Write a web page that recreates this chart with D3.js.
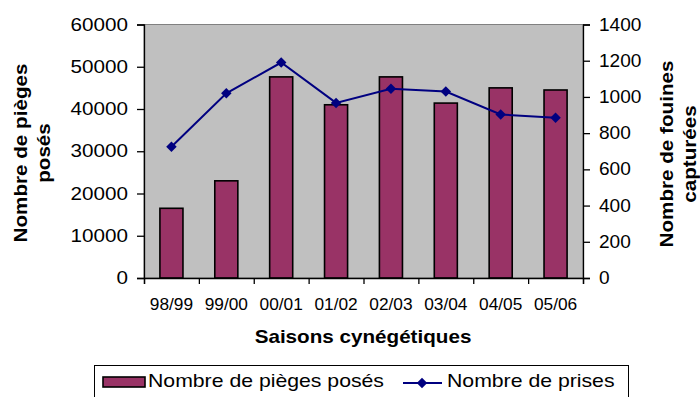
<!DOCTYPE html>
<html>
<head>
<meta charset="utf-8">
<script src="https://cdn.jsdelivr.net/npm/d3@7"></script>
<style>
  html, body { margin: 0; padding: 0; background: #fff; }
  svg { display: block; }
  text { font-family: Arial, "Liberation Sans", sans-serif; fill: #000; }
</style>
</head>
<body>
<svg id="chart" width="700" height="397"></svg>
<script>
// Hunting seasons and yearly figures
const seasons = ["98/99", "99/00", "00/01", "01/02", "02/03", "03/04", "04/05", "05/06"];
const trapsSet = [16500, 23000, 47600, 41000, 47600, 41400, 45000, 44500];
const catches = [725, 1020, 1190, 967, 1045, 1030, 903, 885];
const leftTicks = [0, 10000, 20000, 30000, 40000, 50000, 60000];
const rightTicks = [0, 200, 400, 600, 800, 1000, 1200, 1400];

const barColor = "#993366";
const lineColor = "#000080";
const plotFill = "#C0C0C0";
const stretch = 1.18;   // most text is drawn slightly widened

const svg = d3.select("#chart");
const plot = { left: 144, right: 583, top: 24.5, bottom: 278 };

const x = d3.scaleBand().domain(seasons).range([plot.left, plot.right]).padding(0);
const xEdges = d3.scaleLinear().domain([0, seasons.length]).range([plot.left, plot.right]);
const yL = d3.scaleLinear().domain([0, 60000]).range([plot.bottom, plot.top]);
const yR = d3.scaleLinear().domain([0, 1400]).range([plot.bottom, plot.top]);

// plot background
svg.append("rect")
  .attr("x", plot.left).attr("y", plot.top)
  .attr("width", plot.right - plot.left).attr("height", plot.bottom - plot.top)
  .attr("fill", plotFill).attr("stroke", "#808080").attr("stroke-width", 1);

// bars: traps set
const barW = x.bandwidth() * 0.42;
svg.append("g").selectAll("rect").data(seasons).join("rect")
  .attr("x", d => x(d) + (x.bandwidth() - barW) / 2)
  .attr("y", (d, i) => yL(trapsSet[i]))
  .attr("width", barW)
  .attr("height", (d, i) => yL(0) - yL(trapsSet[i]))
  .attr("fill", barColor)
  .attr("stroke", "#000").attr("stroke-width", 1.6);

// line: catches
const cx = d => x(d) + x.bandwidth() / 2;
svg.append("path")
  .datum(seasons)
  .attr("fill", "none").attr("stroke", lineColor).attr("stroke-width", 2)
  .attr("d", d3.line().x(cx).y((d, i) => yR(catches[i])));

const diamond = d3.symbol().type(d3.symbolDiamond2).size(70);
svg.append("g").selectAll("path").data(seasons).join("path")
  .attr("transform", (d, i) => `translate(${cx(d)},${yR(catches[i])})`)
  .attr("d", diamond)
  .attr("fill", lineColor);

function styleAxis(g, size) {
  g.select(".domain").attr("stroke", "#000").attr("stroke-width", 1.3);
  g.selectAll(".tick line").attr("stroke", "#000").attr("stroke-width", 1.3);
  g.selectAll("text").attr("font-size", size).attr("fill", "#000").attr("font-family", null);
}

// left axis
const gL = svg.append("g").attr("transform", `translate(${plot.left},0)`)
  .call(d3.axisLeft(yL).tickValues(leftTicks).tickSizeOuter(0).tickSize(7).tickPadding(9).tickFormat(d3.format("d")));
styleAxis(gL, 17.5);
gL.selectAll(".tick text").attr("x", -16 / stretch).attr("transform", `scale(${stretch},1)`);

// right axis
const rStretch = 1.09;
const gR = svg.append("g").attr("transform", `translate(${plot.right},0)`)
  .call(d3.axisRight(yR).tickValues(rightTicks).tickSizeOuter(0).tickSize(7).tickPadding(9).tickFormat(d3.format("d")));
styleAxis(gR, 17.5);
gR.selectAll(".tick text").attr("x", 16 / rStretch).attr("transform", `scale(${rStretch},1)`);

// bottom axis: tick marks between seasons
const gB = svg.append("g").attr("transform", `translate(0,${plot.bottom})`)
  .call(d3.axisBottom(xEdges).tickValues(d3.range(seasons.length + 1)).tickSizeOuter(0).tickSize(6).tickFormat(""));
styleAxis(gB, 17.5);

// bottom axis labels at season centres
const gBL = svg.append("g").attr("transform", `translate(0,${plot.bottom})`)
  .call(d3.axisBottom(x).tickSize(0).tickPadding(20));
gBL.select(".domain").remove();
styleAxis(gBL, 17.3);

// text helper: anchored, rotated, widened along its direction
function label(tx, ty, str, opts = {}) {
  const rot = opts.rotate || 0;
  return svg.append("text")
    .attr("transform", `translate(${tx},${ty}) rotate(${rot}) scale(${stretch},1)`)
    .attr("text-anchor", opts.anchor || "middle")
    .attr("font-size", opts.size || 17.5)
    .attr("font-weight", opts.bold ? "bold" : "normal")
    .text(str);
}

// axis titles
label(363, 343, "Saisons cynégétiques", { bold: true });
label(27, 153, "Nombre de pièges", { bold: true, rotate: -90 });
label(49.5, 153, "posés", { bold: true, rotate: -90 });
label(673, 154, "Nombre de fouines", { bold: true, rotate: -90 });
label(696, 154, "capturées", { bold: true, rotate: -90 });

// legend
const lg = svg.append("g");
lg.append("rect").attr("x", 94.5).attr("y", 365.5).attr("width", 534).attr("height", 40)
  .attr("fill", "#fff").attr("stroke", "#000").attr("stroke-width", 1);
lg.append("rect").attr("x", 103).attr("y", 377).attr("width", 42).attr("height", 10)
  .attr("fill", barColor).attr("stroke", "#000").attr("stroke-width", 1.6);
label(148, 387, "Nombre de pièges posés", { anchor: "start", size: 18 });
lg.append("line").attr("x1", 403).attr("x2", 442).attr("y1", 383).attr("y2", 383)
  .attr("stroke", lineColor).attr("stroke-width", 2);
lg.append("path").attr("transform", "translate(422,383)").attr("d", diamond).attr("fill", lineColor);
label(447, 387, "Nombre de prises", { anchor: "start", size: 18 });
</script>
</body>
</html>
